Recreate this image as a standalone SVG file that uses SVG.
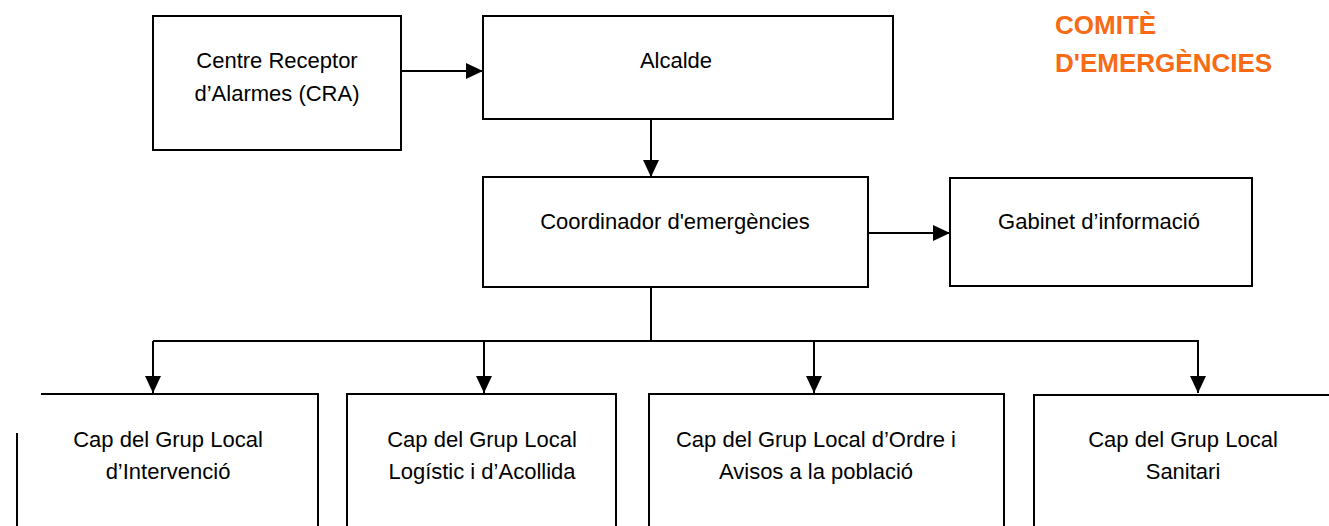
<svg xmlns="http://www.w3.org/2000/svg" width="1329" height="526" viewBox="0 0 1329 526">
<style>
.box{fill:#fff;stroke:#000;stroke-width:2}
.ln{fill:none;stroke:#000;stroke-width:2}
.t{font-family:"Liberation Sans",Arial,sans-serif;font-size:22px;fill:#000;text-anchor:middle}
.title{font-family:"Liberation Sans",Arial,sans-serif;font-size:26px;font-weight:bold;fill:#F86A14}
</style>
<defs>
<marker id="ah" markerWidth="17" markerHeight="16" refX="17" refY="8" orient="auto" markerUnits="userSpaceOnUse">
<path d="M0,0 L17,8 L0,16 Z" fill="#000"/>
</marker>
</defs>
<rect width="1329" height="526" fill="#fff"/>
<g id="title">
<text class="title" x="1055" y="34">COMITÈ</text>
<text class="title" x="1055" y="72">D'EMERGÈNCIES</text>
</g>
<g id="cra">
<rect class="box" x="153" y="16" width="248" height="134"/>
<text class="t" x="277" y="68">Centre Receptor</text>
<text class="t" x="277" y="101">d’Alarmes (CRA)</text>
</g>
<g id="alcalde">
<rect class="box" x="483" y="16" width="410" height="103"/>
<text class="t" x="676" y="68">Alcalde</text>
</g>
<g id="coordinador">
<rect class="box" x="483" y="177" width="385" height="110"/>
<text class="t" x="675" y="229">Coordinador d'emergències</text>
</g>
<g id="gabinet">
<rect class="box" x="950" y="178" width="302" height="108"/>
<text class="t" x="1099" y="229">Gabinet d’informació</text>
</g>
<g id="intervencio">
<path class="ln" d="M41,394 H318 V526"/>
<path class="ln" d="M17,433 V526"/>
<text class="t" x="168" y="447">Cap del Grup Local</text>
<text class="t" x="168" y="479">d’Intervenció</text>
</g>
<g id="logistic">
<path class="ln" d="M347,526 V394 H616 V526"/>
<text class="t" x="482" y="447">Cap del Grup Local</text>
<text class="t" x="482" y="479">Logístic i d’Acollida</text>
</g>
<g id="ordre">
<path class="ln" d="M649,526 V394 H1004 V526"/>
<text class="t" x="816" y="447">Cap del Grup Local d’Ordre i</text>
<text class="t" x="816" y="479">Avisos a la població</text>
</g>
<g id="sanitari">
<path class="ln" d="M1034,526 V395 H1329"/>
<text class="t" x="1183" y="447">Cap del Grup Local</text>
<text class="t" x="1183" y="479">Sanitari</text>
</g>
<g id="connectors">
<line class="ln" x1="401" y1="71" x2="483" y2="71" marker-end="url(#ah)"/>
<line class="ln" x1="651" y1="119" x2="651" y2="177" marker-end="url(#ah)"/>
<line class="ln" x1="868" y1="233" x2="950" y2="233" marker-end="url(#ah)"/>
<line class="ln" x1="651" y1="287" x2="651" y2="341"/>
<line class="ln" x1="153" y1="341" x2="1199" y2="341"/>
<line class="ln" x1="153" y1="341" x2="153" y2="393" marker-end="url(#ah)"/>
<line class="ln" x1="484" y1="341" x2="484" y2="393" marker-end="url(#ah)"/>
<line class="ln" x1="814" y1="341" x2="814" y2="393" marker-end="url(#ah)"/>
<line class="ln" x1="1198" y1="341" x2="1198" y2="393" marker-end="url(#ah)"/>
</g>
</svg>
